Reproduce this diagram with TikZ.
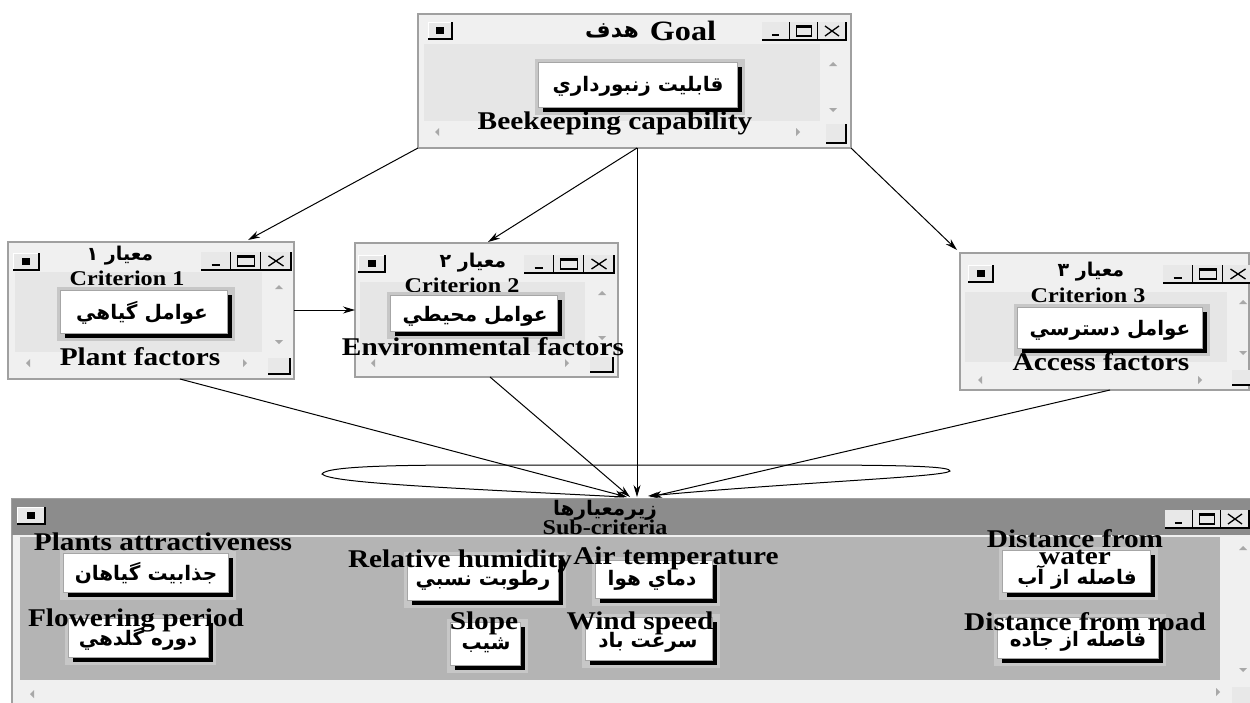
\documentclass[tikz,border=0pt]{standalone}
\usepackage{fontspec}
\usetikzlibrary{arrows.meta,calc}
\TeXXeTstate=1
\newfontfamily\labfont[FakeStretch=1.15]{Liberation Serif}
\newfontfamily\fafont[Script=Arabic]{DejaVu Sans}
\definecolor{framec}{HTML}{A0A0A0}
\definecolor{winbg}{HTML}{F0F0F0}
\definecolor{contbg}{HTML}{E6E6E6}
\definecolor{barbg}{HTML}{8C8C8C}
\definecolor{subbg}{HTML}{B4B4B4}
\definecolor{arrowgray}{HTML}{A8A8A8}
\definecolor{btnface}{HTML}{E8E8E8}
\tikzset{
 win/.style={draw=framec, fill=winbg, line width=1.5pt, inner sep=0pt, outer sep=0pt, anchor=north west},
 lab/.style={font=\labfont\bfseries\fontsize{25.5}{24}\selectfont, inner sep=0pt},
 crit/.style={font=\labfont\bfseries\fontsize{21}{20}\selectfont, inner sep=0pt},
 fa/.style={font=\fafont\bfseries\fontsize{20}{20}\selectfont, inner sep=0pt},
 fatitle/.style={font=\fafont\bfseries\fontsize{19}{18}\selectfont, inner sep=0pt},
 conn/.style={line width=1pt, -{Stealth[length=12pt,width=7pt]}},
}
\newcommand\sysbtn[3]{%
 \fill[btnface] (#1,#2) rectangle ({#1+#3},{#2+17});
 \draw[white, line width=1pt] (#1,{#2+17}) -- (#1,#2) -- ({#1+#3},#2);
 \draw[black, line width=1.5pt] (#1,{#2+17}) -- ({#1+#3},{#2+17}) -- ({#1+#3},#2);
 \fill[black] ({#1+#3/2-4},{#2+5}) rectangle ({#1+#3/2+4},{#2+12});
}
\newcommand\ctlbtns[3]{%
 \foreach \i in {0,1,2} {
  \fill[btnface] ({#1+\i*#3},#2) rectangle ({#1+(\i+1)*#3},{#2+18});
  \draw[black,line width=1.5pt] ({#1+\i*#3},{#2+18}) -- ({#1+(\i+1)*#3},{#2+18}) -- ({#1+(\i+1)*#3},#2);
 }
 \draw[line width=2.2pt] ({#1+#3*0.35},{#2+13}) -- ({#1+#3*0.62},{#2+13});
 \draw[line width=1.2pt] ({#1+#3*1.22},{#2+4}) rectangle ({#1+#3*1.78},{#2+14});
 \draw[line width=2pt] ({#1+#3*1.22},{#2+4.5}) -- ({#1+#3*1.78},{#2+4.5});
 \draw[line width=1.3pt] ({#1+#3*2.25},{#2+4}) -- ({#1+#3*2.75},{#2+14}) ({#1+#3*2.25},{#2+14}) -- ({#1+#3*2.75},{#2+4});
}
\newcommand\arrUp[2]{\fill[arrowgray] ({#1-4},{#2+2}) -- (#1,{#2-2}) -- ({#1+4},{#2+2}) -- cycle;}
\newcommand\arrDown[2]{\fill[arrowgray] ({#1-4},{#2-2}) -- (#1,{#2+2}) -- ({#1+4},{#2-2}) -- cycle;}
\newcommand\arrLeft[2]{\fill[arrowgray] ({#1+2},{#2-4}) -- ({#1-2},#2) -- ({#1+2},{#2+4}) -- cycle;}
\newcommand\arrRight[2]{\fill[arrowgray] ({#1-2},{#2-4}) -- ({#1+2},#2) -- ({#1-2},{#2+4}) -- cycle;}
\newcommand\cornerbox[4]{\fill[btnface] (#1,#2) rectangle (#3,#4); \draw[black,line width=1.5pt] (#1,#4) -- (#3,#4) -- (#3,#2);}
\newcommand\wbtn[5]{%
 \fill[black!22] ({#2-3},{#3-3}) rectangle ({#4+3},{#5+3});
 \fill[black] ({#2+5},{#3+5}) rectangle (#4,#5);
 \node[draw=black!35, fill=white, line width=0.8pt, inner sep=0pt, outer sep=0pt, anchor=north west,
   minimum width={(#4-#2-5)*1pt}, minimum height={(#5-#3-5)*1pt}] (#1) at (#2,#3) {};
}
\newcommand\winnode[5]{\node[win, minimum width={(#4-#2)*1pt}, minimum height={(#5-#3)*1pt}] (#1) at (#2,#3) {};}
\begin{document}
\begin{tikzpicture}[x=1pt,y=-1pt]
\useasboundingbox (0,0) rectangle (1250,702);
\clip (0,0) rectangle (1250,702);
\fill[white] (0,0) rectangle (1250,702);

% ---------- Goal window
\winnode{goal}{418}{14}{851}{148}
\fill[contbg] (424,44) rectangle (820,121);
\sysbtn{428}{22}{24}
\ctlbtns{762}{22}{28}
\node[font=\fafont\bfseries\fontsize{22}{22}\selectfont, inner sep=0pt] (goalfa) at (612,31) {\beginR هدف\endR};
\node[lab, font=\labfont\bfseries\fontsize{28}{28}\selectfont] (goaltxt) at (683,31) {Goal};
\arrUp{833}{64} \arrDown{833}{110} \arrLeft{437}{132} \arrRight{798}{132}
\cornerbox{826}{124}{846}{143}
\wbtn{gbtn}{538}{62}{742}{112}
\node[fa] (gfa) at (638,86) {\beginR قابليت زنبورداري\endR};
\node[lab] (glab) at (615,123) {Beekeeping capability};

% ---------- Criterion 1
\winnode{c1}{8}{242}{294}{379}
\fill[contbg] (15,272) rectangle (262,352);
\sysbtn{13}{253}{26}
\ctlbtns{201}{252}{30}
\node[fatitle] (c1fa) at (120,256) {\beginR معيار ۱\endR};
\node[crit] (c1crit) at (127,278) {Criterion 1};
\arrUp{279}{287} \arrDown{279}{342} \arrLeft{28}{363} \arrRight{245}{363}
\cornerbox{268}{358}{290}{374}
\wbtn{c1btn}{60}{290}{232}{338}
\node[fa] (c1btxt) at (142,313) {\beginR عوامل گياهي\endR};
\node[lab] (c1lab) at (140,357) {Plant factors};

% ---------- Criterion 2
\winnode{c2}{355}{243}{618}{377}
\fill[contbg] (360,282) rectangle (585,352);
\sysbtn{358}{255}{27}
\ctlbtns{524}{255}{30}
\node[fatitle] (c2fa) at (473,263) {\beginR معيار ۲\endR};
\node[crit] (c2crit) at (462,285) {Criterion 2};
\arrUp{602}{293} \arrDown{602}{338} \arrLeft{373}{363} \arrRight{567}{363}
\cornerbox{590}{357}{613}{372}
\wbtn{c2btn}{390}{295}{562}{336}
\node[fa] (c2btxt) at (475,316) {\beginR عوامل محيطي\endR};
\node[lab] (c2lab) at (483,347) {Environmental factors};

% ---------- Criterion 3
\winnode{c3}{960}{253}{1249}{390}
\fill[contbg] (965,292) rectangle (1227,362);
\sysbtn{968}{265}{25}
\ctlbtns{1163}{265}{30}
\node[fatitle] (c3fa) at (1091,272) {\beginR معيار ۳\endR};
\node[crit] (c3crit) at (1088,295) {Criterion 3};
\arrUp{1243}{302} \arrDown{1243}{353} \arrLeft{980}{380} \arrRight{1200}{380}
\cornerbox{1232}{370}{1252}{385}
\wbtn{c3btn}{1017}{307}{1207}{353}
\node[fa] (c3btxt) at (1110,330) {\beginR عوامل دسترسي\endR};
\node[lab] (c3lab) at (1101,362) {Access factors};

% ---------- Sub-criteria window
\winnode{sub}{12}{499}{1252}{704}
\fill[barbg] (12,499) rectangle (1252,535);
\fill[subbg] (20,537) rectangle (1220,680);
\sysbtn{17}{507}{28}
\ctlbtns{1165}{510}{28}
\node[fatitle, font=\fafont\bfseries\fontsize{20}{18}\selectfont] (subfa) at (605,510) {\beginR زيرمعيارها\endR};
\node[crit] (subcrit) at (605,527) {Sub-criteria};
\arrUp{1243}{548} \arrDown{1243}{670} \arrLeft{32}{694} \arrRight{1218}{692}
\cornerbox{1232}{687}{1252}{704}

\wbtn{s1}{63}{553}{233}{597}
\node[fa] (s1t) at (146,573) {\beginR جذابيت گياهان\endR};
\wbtn{s2}{68}{618}{213}{662}
\node[fa] (s2t) at (138,639) {\beginR دوره گلدهي\endR};
\wbtn{s3}{407}{555}{563}{605}
\node[fa] (s3t) at (483,580) {\beginR رطوبت نسبي\endR};
\wbtn{s4}{595}{560}{717}{603}
\node[fa] (s4t) at (652,580) {\beginR دماي هوا\endR};
\wbtn{s5}{450}{622}{525}{670}
\node[fa] (s5t) at (486,645) {\beginR شيب\endR};
\wbtn{s6}{585}{617}{717}{665}
\node[fa] (s6t) at (648,642) {\beginR سرعت باد\endR};
\wbtn{s7}{1002}{550}{1155}{597}
\node[fa] (s7t) at (1077,577) {\beginR فاصله از آب\endR};
\wbtn{s8}{997}{617}{1163}{663}
\node[fa] (s8t) at (1078,641) {\beginR فاصله از جاده\endR};

\node[lab] (s1l) at (163,542) {Plants attractiveness};
\node[lab] (s2l) at (136,620) {Flowering period};
\node[lab] (s3l) at (460,561) {Relative humidity};
\node[lab] (s4l) at (676,558) {Air temperature};
\node[lab] (s5l) at (484,623) {Slope};
\node[lab] (s6l) at (640,623) {Wind speed};
\node[lab, align=center, font=\labfont\bfseries\fontsize{25.5}{17}\selectfont] (s7l) at (1075,547) {Distance from\\water};
\node[lab] (s8l) at (1085,622) {Distance from road};

% ---------- connectors
\draw[conn] (goal.south west) -- ($(c1.north west)+(240,-2)$);
\draw[conn] ($(goal.south west)+(219,0)$) -- ($(c2.north west)+(133,-1)$);
\draw[conn] ($(goal.south west)+(219,0)$) -- ($(sub.north west)+(625,-2)$);
\draw[conn] (goal.south east) -- ($(c3.north west)+(-3,-3)$);
\draw[conn] ($(c1.north east)+(0,68)$) -- ($(c2.north west)+(0,67)$);
\draw[conn] ($(c1.south west)+(172,0)$) -- ($(sub.north west)+(615,-2)$);
\draw[conn] ($(c2.south west)+(135,0)$) -- ($(sub.north west)+(618,-2)$);
\draw[conn] ($(c3.south west)+(150,0)$) -- ($(sub.north west)+(638,-2)$);
\draw[line width=1pt, -{Stealth[length=10pt,width=6pt]}] ($(sub.north west)+(612,-2)$)
  .. controls (450,488) and (330,483) .. (322,474)
  .. controls (326,466) and (400,465) .. (480,465) -- (800,465)
  .. controls (920,465) and (950,467) .. (950,471)
  .. controls (945,477) and (800,482) .. ($(sub.north west)+(636,-3)$);
\end{tikzpicture}
\end{document}
